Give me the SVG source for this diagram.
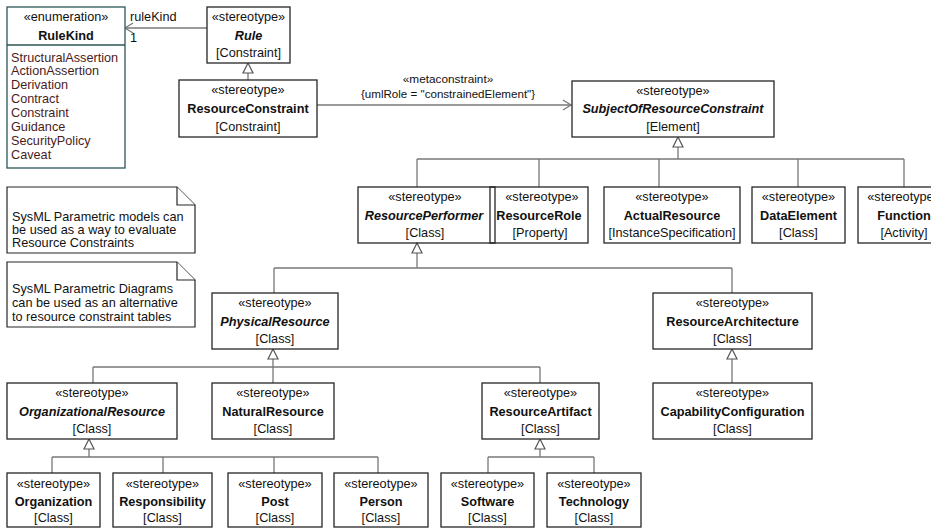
<svg xmlns="http://www.w3.org/2000/svg" width="931" height="529" viewBox="0 0 931 529">
<style>
.bx{fill:#fff;stroke:#262626;stroke-width:1.3}
.bn{fill:none;stroke:#262626;stroke-width:1.3}
.t{font-family:"Liberation Sans",Arial,sans-serif;font-size:12.7px;fill:#111;text-anchor:middle}
.l{text-anchor:start}
.b{font-weight:bold}
.i{font-style:italic}
.lit{fill:#4a1c1c}
.c{fill:none;stroke:#787878;stroke-width:1.3}
.tri{fill:#fff;stroke:#555;stroke-width:1.2}
.note{fill:#fff;stroke:#262626;stroke-width:1.2}
</style>
<rect width="931" height="529" fill="#fff"/>
<g id="connectors">
  <line class="c" x1="207" y1="28" x2="125" y2="28"/>
  <polyline class="c" points="133,23 125,28 133,33"/>
  <text class="t l" x="130" y="21">ruleKind</text>
  <text class="t l" x="130" y="42">1</text>
  <line class="c" x1="248" y1="80" x2="248" y2="73"/>
  <polygon class="tri" points="248,63 243,73 253,73"/>
  <line class="c" x1="317" y1="105" x2="571" y2="105"/>
  <polyline class="c" points="563,100 571,105 563,110"/>
  <text class="t" x="448" y="83" style="font-size:11.8px">«metaconstraint»</text>
  <text class="t" x="448" y="98" style="font-size:11.6px">{umlRole = "constrainedElement"}</text>
  <path class="c" d="M678,147 V159 M417,159 H904 M417,159 V187 M539,159 V187 M659,159 V187 M798,159 V187 M904,159 V187"/>
  <polygon class="tri" points="678,137 673,147 683,147"/>
  <path class="c" d="M417,253 V268 M274,268 H732 M274,268 V293 M732,268 V293"/>
  <polygon class="tri" points="417,243 412,253 422,253"/>
  <path class="c" d="M273,359 V367 M93,367 H540 M93,367 V383 M273,367 V383 M540,367 V383"/>
  <polygon class="tri" points="273,349 268,359 278,359"/>
  <path class="c" d="M732,359 V383"/>
  <polygon class="tri" points="732,349 727,359 737,359"/>
  <path class="c" d="M89,449 V457 M52,457 H378 M52,457 V473 M163,457 V473 M274,457 V473 M378,457 V473"/>
  <polygon class="tri" points="89,439 84,449 94,449"/>
  <path class="c" d="M540,449 V457 M488,457 H594 M488,457 V473 M594,457 V473"/>
  <polygon class="tri" points="540,439 535,449 545,449"/>
</g>
<g id="RuleKind">
  <rect x="7" y="7" width="118" height="161" fill="#fff" stroke="#2b5656" stroke-width="1.3"/>
  <line x1="7" y1="45" x2="125" y2="45" stroke="#2b5656" stroke-width="1.3"/>
  <text class="t" x="66" y="21">«enumeration»</text>
  <text class="t b" x="66" y="40">RuleKind</text>
  <text class="t l lit" x="11" y="61.5">StructuralAssertion</text>
  <text class="t l lit" x="11" y="75.4">ActionAssertion</text>
  <text class="t l lit" x="11" y="89.3">Derivation</text>
  <text class="t l lit" x="11" y="103.2">Contract</text>
  <text class="t l lit" x="11" y="117.1">Constraint</text>
  <text class="t l lit" x="11" y="131">Guidance</text>
  <text class="t l lit" x="11" y="144.9">SecurityPolicy</text>
  <text class="t l lit" x="11" y="158.8">Caveat</text>
</g>
<g id="Rule">
  <rect class="bx" x="207" y="7" width="83" height="56"/>
  <text class="t" x="248.5" y="21">«stereotype»</text>
  <text class="t b i" x="248.5" y="40">Rule</text>
  <text class="t" x="248.5" y="57">[Constraint]</text>
</g>
<g id="ResourceConstraint">
  <rect class="bx" x="179" y="80" width="138" height="57"/>
  <text class="t" x="248" y="94">«stereotype»</text>
  <text class="t b" x="248" y="113">ResourceConstraint</text>
  <text class="t" x="248" y="131">[Constraint]</text>
</g>
<g id="SubjectOfResourceConstraint">
  <rect class="bx" x="572" y="81" width="202" height="56"/>
  <text class="t" x="673" y="95">«stereotype»</text>
  <text class="t b i" x="673" y="113">SubjectOfResourceConstraint</text>
  <text class="t" x="673" y="131">[Element]</text>
</g>
<g id="note1">
  <path class="note" d="M7,187 H177 L195,205 V253 H7 Z"/>
  <path class="note" d="M177,187 V205 H195" fill="none"/>
  <text class="t l" x="12" y="221">SysML Parametric models can</text>
  <text class="t l" x="12" y="234">be used as a way to evaluate</text>
  <text class="t l" x="12" y="247">Resource Constraints</text>
</g>
<g id="note2">
  <path class="note" d="M7,262 H177 L195,280 V327 H7 Z"/>
  <path class="note" d="M177,262 V280 H195" fill="none"/>
  <text class="t l" x="12" y="293">SysML Parametric Diagrams</text>
  <text class="t l" x="12" y="307">can be used as an alternative</text>
  <text class="t l" x="12" y="321">to resource constraint tables</text>
</g>
<g id="ResourcePerformer">
  <rect class="bn" x="358" y="187" width="137" height="56"/>
  <text class="t" x="425" y="201">«stereotype»</text>
  <text class="t b i" x="424" y="220">ResourcePerformer</text>
  <text class="t" x="425" y="237">[Class]</text>
</g>
<g id="ResourceRole">
  <rect class="bn" x="490" y="187" width="98" height="56"/>
  <text class="t" x="542" y="201">«stereotype»</text>
  <text class="t b" x="539" y="220">ResourceRole</text>
  <text class="t" x="540" y="237">[Property]</text>
</g>
<g id="ActualResource">
  <rect class="bx" x="604" y="187" width="136" height="56"/>
  <text class="t" x="672" y="201">«stereotype»</text>
  <text class="t b" x="672" y="220">ActualResource</text>
  <text class="t" x="672" y="237">[InstanceSpecification]</text>
</g>
<g id="DataElement">
  <rect class="bx" x="752" y="187" width="93" height="56"/>
  <text class="t" x="798.5" y="201">«stereotype»</text>
  <text class="t b" x="798.5" y="220">DataElement</text>
  <text class="t" x="798.5" y="237">[Class]</text>
</g>
<g id="Function">
  <rect class="bx" x="858" y="187" width="92" height="56"/>
  <text class="t" x="904" y="201">«stereotype»</text>
  <text class="t b" x="904" y="220">Function</text>
  <text class="t" x="904" y="237">[Activity]</text>
</g>
<g id="PhysicalResource">
  <rect class="bx" x="212" y="293" width="126" height="56"/>
  <text class="t" x="275" y="307">«stereotype»</text>
  <text class="t b i" x="275" y="326">PhysicalResource</text>
  <text class="t" x="275" y="343">[Class]</text>
</g>
<g id="ResourceArchitecture">
  <rect class="bx" x="653" y="293" width="159" height="56"/>
  <text class="t" x="732.5" y="307">«stereotype»</text>
  <text class="t b" x="732.5" y="326">ResourceArchitecture</text>
  <text class="t" x="732.5" y="343">[Class]</text>
</g>
<g id="CapabilityConfiguration">
  <rect class="bx" x="653" y="383" width="159" height="56"/>
  <text class="t" x="732.5" y="397">«stereotype»</text>
  <text class="t b" x="732.5" y="416">CapabilityConfiguration</text>
  <text class="t" x="732.5" y="433">[Class]</text>
</g>
<g id="OrganizationalResource">
  <rect class="bx" x="7" y="383" width="170" height="56"/>
  <text class="t" x="92" y="397">«stereotype»</text>
  <text class="t b i" x="92" y="416">OrganizationalResource</text>
  <text class="t" x="92" y="433">[Class]</text>
</g>
<g id="NaturalResource">
  <rect class="bx" x="212" y="383" width="122" height="56"/>
  <text class="t" x="273" y="397">«stereotype»</text>
  <text class="t b" x="273" y="416">NaturalResource</text>
  <text class="t" x="273" y="433">[Class]</text>
</g>
<g id="ResourceArtifact">
  <rect class="bx" x="482" y="383" width="117" height="56"/>
  <text class="t" x="540.5" y="397">«stereotype»</text>
  <text class="t b" x="540.5" y="416">ResourceArtifact</text>
  <text class="t" x="540.5" y="433">[Class]</text>
</g>
<g id="Organization">
  <rect class="bx" x="7" y="473" width="93" height="54"/>
  <text class="t" x="53.5" y="488">«stereotype»</text>
  <text class="t b" x="53.5" y="506">Organization</text>
  <text class="t" x="53.5" y="522">[Class]</text>
</g>
<g id="Responsibility">
  <rect class="bx" x="113" y="473" width="99" height="54"/>
  <text class="t" x="162.5" y="488">«stereotype»</text>
  <text class="t b" x="162.5" y="506">Responsibility</text>
  <text class="t" x="162.5" y="522">[Class]</text>
</g>
<g id="Post">
  <rect class="bx" x="228" y="473" width="94" height="54"/>
  <text class="t" x="275" y="488">«stereotype»</text>
  <text class="t b" x="275" y="506">Post</text>
  <text class="t" x="275" y="522">[Class]</text>
</g>
<g id="Person">
  <rect class="bx" x="334" y="473" width="94" height="54"/>
  <text class="t" x="381" y="488">«stereotype»</text>
  <text class="t b" x="381" y="506">Person</text>
  <text class="t" x="381" y="522">[Class]</text>
</g>
<g id="Software">
  <rect class="bx" x="441" y="473" width="93" height="54"/>
  <text class="t" x="487.5" y="488">«stereotype»</text>
  <text class="t b" x="487.5" y="506">Software</text>
  <text class="t" x="487.5" y="522">[Class]</text>
</g>
<g id="Technology">
  <rect class="bx" x="547" y="473" width="94" height="54"/>
  <text class="t" x="594" y="488">«stereotype»</text>
  <text class="t b" x="594" y="506">Technology</text>
  <text class="t" x="594" y="522">[Class]</text>
</g>
</svg>
